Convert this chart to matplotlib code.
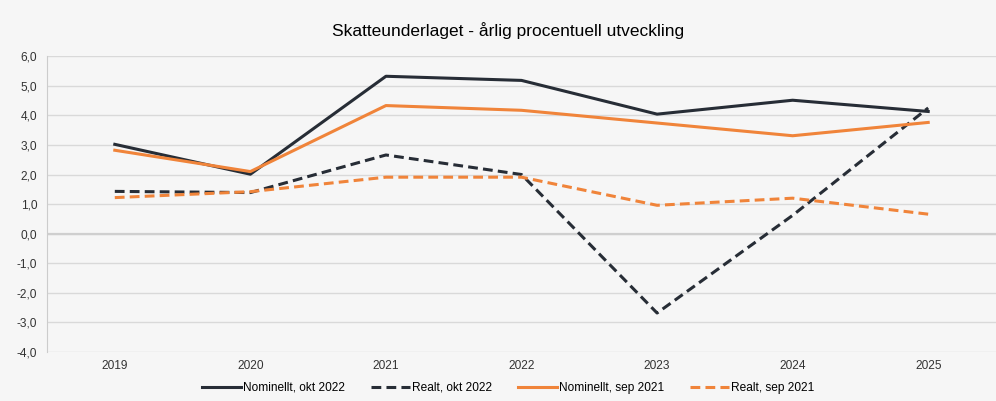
import matplotlib.pyplot as plt
import numpy as np

# Skatteunderlaget - data
years = ["2019", "2020", "2021", "2022", "2023", "2024", "2025"]
nom_okt22 = [3.02, 2.01, 5.32, 5.18, 4.04, 4.51, 4.13]
real_okt22 = [1.43, 1.39, 2.66, 2.0, -2.68, 0.62, 4.25]
nom_sep21 = [2.82, 2.1, 4.33, 4.17, 3.74, 3.31, 3.76]
real_sep21 = [1.22, 1.42, 1.91, 1.91, 0.96, 1.2, 0.66]

dark = "#272d36"
orange = "#f0843a"
bg = "#f6f6f6"

plt.rcParams['font.family'] = ['Liberation Sans', 'DejaVu Sans']

fig = plt.figure(figsize=(9.96, 4.01), dpi=100, facecolor=bg)
ax = fig.add_axes([0.0472, 0.122, 0.9528, 0.738])
ax.set_facecolor(bg)

dash = (0, (3.2, 1.7))
x = np.arange(len(years))
ax.plot(x, nom_okt22, color=dark, lw=2.2, label="Nominellt, okt 2022")
ax.plot(x, real_okt22, color=dark, lw=2.2, ls=dash, label="Realt, okt 2022")
ax.plot(x, nom_sep21, color=orange, lw=2.2, label="Nominellt, sep 2021")
ax.plot(x, real_sep21, color=orange, lw=2.2, ls=dash, label="Realt, sep 2021")

ax.set_xlim(-0.5, len(years) - 0.5)
ax.set_ylim(-4, 6)
ax.set_yticks(np.arange(-4, 7, 1))
ax.set_yticklabels([("%.1f" % v).replace(".", ",") for v in np.arange(-4, 7, 1)])
ax.set_xticks(x)
ax.set_xticklabels(years)
ax.tick_params(axis='both', length=0, labelsize=8.6, colors="#333333")
ax.tick_params(axis='y', pad=7)
ax.tick_params(axis='x', pad=6)

ax.grid(axis='y', color="#d9d9d9", lw=1)
ax.axhline(0, color="#cfcfcf", lw=1.6, zorder=1)
ax.set_axisbelow(True)
for s in ["top", "right", "bottom"]:
    ax.spines[s].set_visible(False)
ax.spines["left"].set_color("#cccccc")

fig.text(0.51, 0.925, "Skatteunderlaget - årlig procentuell utveckling",
         ha="center", va="center", fontsize=12.5)

fig.legend(loc="center", bbox_to_anchor=(0.51, 0.033), ncol=4, frameon=False,
           fontsize=8.6, handlelength=3.3, handletextpad=0.1, columnspacing=2.2)

fig.savefig("out.png", dpi=100, facecolor=bg)
